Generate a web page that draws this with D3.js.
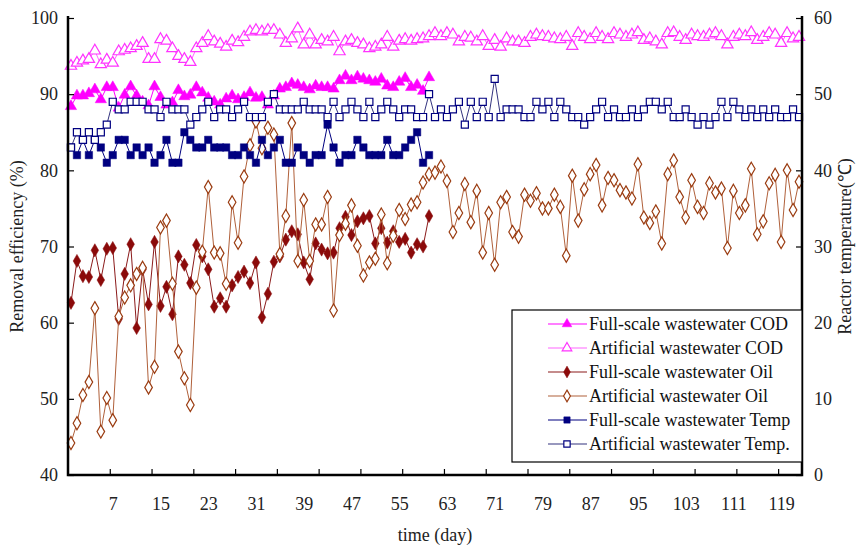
<!DOCTYPE html>
<html>
<head>
<meta charset="utf-8">
<script src="https://cdn.jsdelivr.net/npm/d3@7"></script>
<style>
  body { margin: 0; background: #fff; }
  text { font-family: "Liberation Serif", "Times New Roman", serif; }
</style>
</head>
<body>
<script>
// day index = position in array (day 0 .. 122)
const fullCOD = [
  88.4, 89.8, 89.8, 90.1, 90.6, 89.3, 90.9, 90.9, 88.2, 89.9, 91.0, 89.8, 89.0, 88.5, 91.0,
  89.6, 88.6, 88.9, 90.5, 89.7, 89.9, 90.9, 90.2, 89.5, 89.0, 88.6, 89.4, 89.8, 89.3, 89.6,
  90.2, 89.5, 89.6, 88.6, 89.8, 90.7, 90.9, 91.4, 91.2, 90.9, 90.6, 91.1, 90.9, 90.9, 90.7,
  91.8, 92.4, 91.8, 92.3, 92.0, 91.8, 91.6, 92.0, 91.1, 90.9, 91.6, 92.1, 90.9, 91.2, 90.4, 92.2
];
const artCOD = [
  93.7, 94.1, 94.4, 94.6, 95.7, 93.9, 94.5, 94.1, 95.6, 95.8, 96.0, 96.3, 96.7, 94.6, 94.6,
  97.2, 97.0, 96.0, 95.0, 94.6, 94.2, 96.0, 96.7, 97.6, 96.9, 96.6, 96.2, 97.0, 96.8, 97.5,
  98.2, 98.4, 98.2, 98.4, 98.4, 97.8, 96.7, 97.3, 98.6, 96.5, 97.8, 96.5, 97.1, 96.9, 97.5,
  95.6, 96.9, 97.1, 96.7, 96.5, 96.0, 96.2, 96.5, 97.5, 96.2, 97.0, 97.2, 97.0, 97.2, 97.3, 97.6,
  98.0, 97.6, 98.0, 97.8, 96.9, 97.5, 97.4, 96.9, 97.6, 96.3, 97.1, 96.2, 97.3, 96.9, 96.9,
  96.7, 97.5, 97.8, 97.6, 97.5, 97.3, 97.2, 97.5, 96.3, 98.0, 97.5, 97.2, 98.0, 97.5, 97.2, 98.0,
  97.8, 97.5, 97.8, 98.1, 97.1, 97.3, 96.9, 96.5, 98.0, 98.1, 97.5, 97.1, 97.8, 97.6, 97.5,
  97.8, 98.0, 97.6, 96.5, 97.5, 97.8, 97.6, 98.1, 97.1, 97.5, 98.0, 97.8, 96.7, 98.0, 97.3, 97.5
];
const fullOil = [
  62.6, 68.1, 66.1, 66.0, 69.5, 65.6, 69.7, 69.8, 60.5, 66.4, 70.3, 59.3, 67.0, 62.4, 70.6,
  62.2, 64.7, 61.1, 68.7, 67.6, 65.2, 70.2, 68.7, 67.0, 62.1, 63.2, 62.1, 64.9, 66.0, 66.7,
  65.2, 67.9, 60.7, 63.8, 68.0, 68.7, 70.9, 72.0, 71.6, 67.9, 65.7, 70.4, 69.6, 69.1, 69.2,
  72.4, 73.9, 71.5, 73.3, 73.7, 74.0, 70.4, 72.4, 70.5, 72.0, 70.6, 71.0, 69.2, 70.3, 70.0, 74.0
];
const artOil = [
  44.2, 46.8, 50.5, 52.2, 61.9, 45.7, 50.1, 47.2, 60.8, 63.3, 64.9, 66.4, 67.2, 51.5, 54.2,
  72.5, 73.4, 65.1, 56.2, 52.7, 49.2, 64.6, 69.3, 77.8, 69.2, 69.1, 65.1, 75.8, 70.5, 79.2,
  83.3, 86.4, 82.9, 85.6, 84.7, 69.0, 74.0, 86.2, 68.1, 76.1, 68.1, 72.9, 72.9, 76.5, 61.6,
  71.5, 73.0, 75.4, 70.1, 66.2, 67.9, 68.4, 74.2, 67.8, 71.4, 74.8, 73.6, 75.5, 75.8, 78.4, 79.5,
  79.7, 80.5, 78.6, 71.9, 74.4, 78.2, 73.2, 77.3, 69.2, 74.4, 67.6, 75.8, 76.5, 71.9, 71.3,
  76.8, 76.0, 77.0, 75.0, 75.0, 76.8, 75.2, 68.8, 79.3, 73.4, 77.5, 79.5, 80.7, 75.4, 79.0, 78.7,
  77.4, 77.1, 76.3, 80.8, 73.8, 73.1, 74.6, 70.4, 79.5, 81.3, 76.5, 73.8, 78.7, 75.2, 74.4,
  78.3, 77.1, 77.6, 69.8, 77.3, 74.4, 75.4, 80.2, 71.6, 73.3, 78.3, 79.4, 70.6, 80.0, 74.8, 78.5
];
const fullTemp = [
  43, 42, 44, 42, 44, 43, 41, 42, 44, 44, 42, 43, 42, 43, 41,
  42, 44, 41, 41, 45, 44, 43, 43, 44, 43, 43, 43, 42, 42, 43,
  42, 41, 44, 42, 43, 44, 41, 41, 43, 42, 41, 42, 42, 46, 43,
  41, 42, 42, 44, 43, 42, 42, 42, 44, 42, 42, 43, 44, 45, 41, 42
];
const artTemp = [
  43, 45, 44, 45, 44, 45, 46, 49, 48, 48, 49, 49, 49, 48, 48,
  47, 49, 48, 48, 48, 46, 47, 48, 49, 47, 48, 48, 47, 48, 49,
  47, 47, 47, 49, 50, 48, 48, 48, 48, 49, 48, 48, 48, 47, 49,
  47, 48, 49, 48, 47, 49, 47, 48, 49, 48, 47, 48, 48, 47, 47, 50,
  47, 48, 47, 48, 49, 46, 49, 47, 49, 47, 52, 47, 48, 48, 48,
  47, 47, 49, 48, 49, 47, 49, 48, 47, 47, 46, 47, 48,
  49, 47, 48, 47, 47, 48, 47, 48, 49, 49, 48, 49, 47, 47, 48,
  47, 46, 47, 46, 47, 49, 47, 49, 48, 47, 48, 47, 48, 47, 48, 47, 47, 48, 47
];

const xLabels = [7, 15, 23, 31, 39, 47, 55, 63, 71, 79, 87, 95, 103, 111, 119];
const leftTicks = [40, 50, 60, 70, 80, 90, 100];
const rightTicks = [0, 10, 20, 30, 40, 50, 60];
const nDays = artCOD.length;

const width = 857;
const height = 550;
const plot = { left: 68, right: 802, top: 18, bottom: 475 };

const x = d3.scaleLinear().domain([-0.5, nDays - 0.5]).range([plot.left, plot.right]);
const yL = d3.scaleLinear().domain([40, 100]).range([plot.bottom, plot.top]);
const yR = d3.scaleLinear().domain([0, 60]).range([plot.bottom, plot.top]);

const svg = d3.select("body").append("svg")
  .attr("width", width)
  .attr("height", height);

const series = [
  { name: "Full-scale wastewater COD", data: fullCOD, y: yL, color: "#ff00ff", line: "#ff00ff", shape: d3.symbolTriangle, filled: true, size: 55 },
  { name: "Artificial wastewater COD", data: artCOD, y: yL, color: "#ff33ff", line: "#ff66ff", shape: d3.symbolTriangle, filled: false, size: 55 },
  { name: "Full-scale wastewater Oil", data: fullOil, y: yL, color: "#8b0a0a", line: "#8b1a1a", shape: d3.symbolDiamond, filled: true, size: 50 },
  { name: "Artificial wastewater Oil", data: artOil, y: yL, color: "#9a3b10", line: "#b0603a", shape: d3.symbolDiamond, filled: false, size: 50 },
  { name: "Full-scale wastewater Temp", data: fullTemp, y: yR, color: "#000080", line: "#000080", shape: d3.symbolSquare, filled: true, size: 55 },
  { name: "Artificial wastewater Temp.", data: artTemp, y: yR, color: "#000080", line: "#33337f", shape: d3.symbolSquare, filled: false, size: 50 }
];

const plotGroup = svg.append("g");

series.forEach((s) => {
  const line = d3.line()
    .x((d, i) => x(i))
    .y((d) => s.y(d));

  plotGroup.append("path")
    .datum(s.data)
    .attr("fill", "none")
    .attr("stroke", s.line)
    .attr("stroke-width", 1)
    .attr("d", line);

  plotGroup.append("g")
    .selectAll("path")
    .data(s.data)
    .join("path")
    .attr("transform", (d, i) => `translate(${x(i)},${s.y(d)})`)
    .attr("d", d3.symbol(s.shape, s.size))
    .attr("fill", s.filled ? s.color : "#fff")
    .attr("stroke", s.color)
    .attr("stroke-width", s.filled ? 0.5 : 1.2);
});

// axes
const axisFont = (g) => g.selectAll("text")
  .attr("font-family", "Liberation Serif, serif")
  .attr("font-size", 18)
  .attr("fill", "#222");

const xTickAxis = d3.axisBottom(x)
  .tickValues(d3.range(6.5, nDays - 1, 7))
  .tickSize(-6)
  .tickFormat("");

svg.append("g")
  .attr("transform", `translate(0,${plot.bottom})`)
  .call(xTickAxis)
  .call((g) => g.select(".domain").remove())
  .call((g) => g.selectAll("line").attr("stroke", "#000").attr("stroke-width", 1.2));

const xLabelAxis = d3.axisBottom(x).tickValues(xLabels).tickSize(0).tickPadding(22);
svg.append("g")
  .attr("transform", `translate(0,${plot.bottom})`)
  .call(xLabelAxis)
  .call((g) => g.select(".domain").remove())
  .call(axisFont);

const yLeftAxis = d3.axisLeft(yL).tickValues(leftTicks).tickSize(-6).tickPadding(10);
svg.append("g")
  .attr("transform", `translate(${plot.left},0)`)
  .call(yLeftAxis)
  .call((g) => g.select(".domain").remove())
  .call((g) => g.selectAll("line").attr("stroke", "#000").attr("stroke-width", 1.2))
  .call(axisFont);

const yRightAxis = d3.axisRight(yR).tickValues(rightTicks).tickSize(-6).tickPadding(12);
svg.append("g")
  .attr("transform", `translate(${plot.right},0)`)
  .call(yRightAxis)
  .call((g) => g.select(".domain").remove())
  .call((g) => g.selectAll("line").attr("stroke", "#000").attr("stroke-width", 1.2))
  .call(axisFont);

// thick axis lines
svg.append("path")
  .attr("d", `M${plot.left},${plot.top - 2}V${plot.bottom}H${plot.right}V${plot.top - 2}`)
  .attr("fill", "none")
  .attr("stroke", "#000")
  .attr("stroke-width", 2.5);

// titles
svg.append("text")
  .attr("x", (plot.left + plot.right) / 2)
  .attr("y", 541)
  .attr("text-anchor", "middle")
  .attr("font-size", 18)
  .attr("fill", "#222")
  .text("time (day)");

svg.append("text")
  .attr("transform", `translate(23,${(plot.top + plot.bottom) / 2}) rotate(-90)`)
  .attr("text-anchor", "middle")
  .attr("font-size", 18)
  .attr("fill", "#222")
  .text("Removal efficiency (%)");

svg.append("text")
  .attr("transform", `translate(851,${(plot.top + plot.bottom) / 2}) rotate(-90)`)
  .attr("text-anchor", "middle")
  .attr("font-size", 18)
  .attr("fill", "#222")
  .text("Reactor temperature(℃)");

// legend
const legend = svg.append("g");
legend.append("rect")
  .attr("x", 512)
  .attr("y", 310)
  .attr("width", plot.right - 512)
  .attr("height", 152)
  .attr("fill", "#fff")
  .attr("stroke", "#000")
  .attr("stroke-width", 1.2);

const rows = legend.selectAll("g.row")
  .data(series)
  .join("g")
  .attr("class", "row")
  .attr("transform", (d, i) => `translate(0,${324 + i * 24})`);

rows.append("line")
  .attr("x1", 548).attr("x2", 587)
  .attr("stroke", (d) => d.line)
  .attr("stroke-width", 1.2);

rows.append("path")
  .attr("transform", "translate(567,0)")
  .attr("d", (d) => d3.symbol(d.shape, 40)())
  .attr("fill", (d) => (d.filled ? d.color : "#fff"))
  .attr("stroke", (d) => d.color)
  .attr("stroke-width", (d) => (d.filled ? 0.5 : 1.2));

rows.append("text")
  .attr("x", 589)
  .attr("y", 6)
  .attr("font-size", 18)
  .attr("fill", "#111")
  .text((d) => d.name);
</script>
</body>
</html>
